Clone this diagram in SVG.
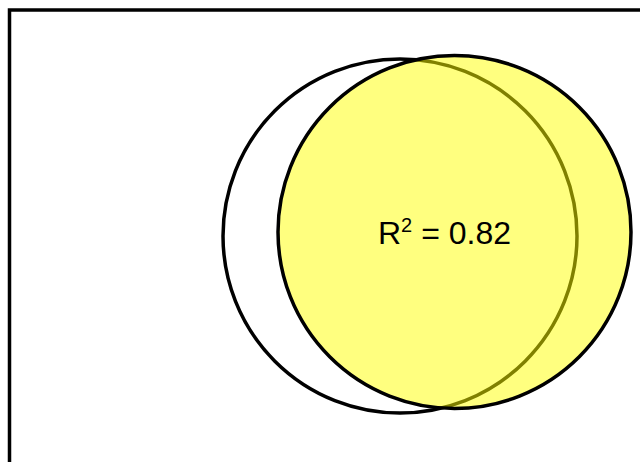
<svg xmlns="http://www.w3.org/2000/svg" width="640" height="462" viewBox="0 0 640 462">
<style>
.frame{fill:none;stroke:#000;stroke-width:3.5}
.c{stroke:#000;stroke-width:3.5}
.lbl{font-family:"Liberation Sans",Arial,sans-serif;font-size:32px;fill:#000}
</style>
<rect width="640" height="462" fill="#fff"/>
<path class="frame" d="M9.5,462 V10 H640"/>
<g id="circle-a"><circle class="c" cx="400" cy="236" r="177" fill="#fff"/></g>
<g id="circle-b"><circle class="c" cx="454.5" cy="232" r="176.5" fill="#ffff00" fill-opacity="0.5"/></g>
<g id="label"><text class="lbl" x="444.5" y="244" text-anchor="middle">R<tspan font-size="20" dy="-12">2</tspan><tspan dy="12"> = 0.82</tspan></text></g>
</svg>
